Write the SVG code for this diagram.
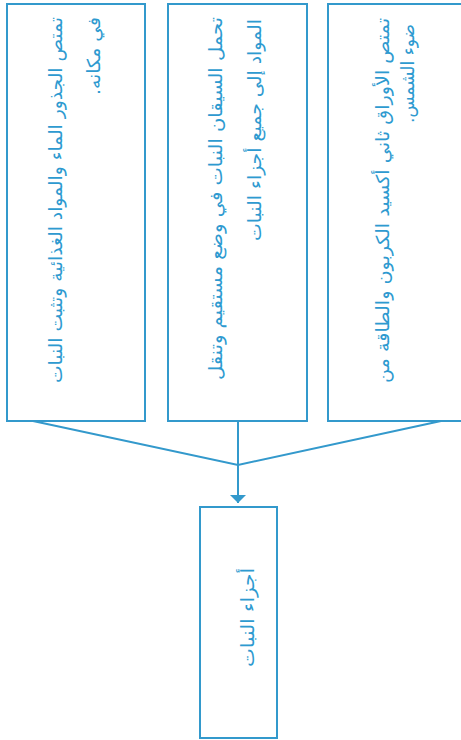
<svg xmlns="http://www.w3.org/2000/svg" width="461" height="740" viewBox="0 0 461 740">
<defs>
<style>
.box{fill:#ffffff;stroke:#3399cc;stroke-width:2}
.t{font-family:"DejaVu Sans",sans-serif;font-size:18px;fill:#2e9ad0;direction:rtl;text-anchor:start}
.c{fill:none;stroke:#3399cc;stroke-width:2}
</style>
<marker id="ah" viewBox="0 0 10 10" refX="10" refY="5" markerWidth="4" markerHeight="8" markerUnits="strokeWidth" orient="auto" preserveAspectRatio="none">
<path d="M0,0 L10,5 L0,10 z" fill="#3399cc"/>
</marker>
</defs>
<rect width="461" height="740" fill="#ffffff"/>
<g id="connectors">
<path class="c" d="M33,421 L238,465 L441,421"/>
<path class="c" d="M238,421 L238,503" marker-end="url(#ah)"/>
</g>
<g id="roots">
<rect class="box" x="7" y="4" width="138" height="417"/>
<text class="t" direction="rtl" transform="translate(62,17) rotate(-90)" textLength="366" lengthAdjust="spacingAndGlyphs">تمتص الجذور الماء والمواد الغذائية وتثبت النبات</text>
<text class="t" direction="rtl" transform="translate(100,17) rotate(-90)" textLength="78" lengthAdjust="spacingAndGlyphs">في مكانه.</text>
</g>
<g id="stems">
<rect class="box" x="168" y="4" width="139" height="417"/>
<text class="t" direction="rtl" transform="translate(222,17) rotate(-90)" textLength="363" lengthAdjust="spacingAndGlyphs">تحمل السيقان النبات في وضع مستقيم وتنقل</text>
<text class="t" direction="rtl" transform="translate(261,19) rotate(-90)" textLength="222" lengthAdjust="spacingAndGlyphs">المواد إلى جميع أجزاء النبات</text>
</g>
<g id="leaves">
<rect class="box" x="328" y="4" width="140" height="417"/>
<text class="t" direction="rtl" transform="translate(389,18) rotate(-90)" textLength="365" lengthAdjust="spacingAndGlyphs">تمتص الأوراق ثاني أكسيد الكربون والطاقة من</text>
<text class="t" direction="rtl" transform="translate(414,24) rotate(-90)" textLength="99" lengthAdjust="spacingAndGlyphs">ضوء الشمس.</text>
</g>
<g id="plant-parts">
<rect class="box" x="200" y="507" width="77" height="231"/>
<text class="t" direction="rtl" transform="translate(254,568) rotate(-90)" textLength="99" lengthAdjust="spacingAndGlyphs">أجزاء النبات</text>
</g>
</svg>
